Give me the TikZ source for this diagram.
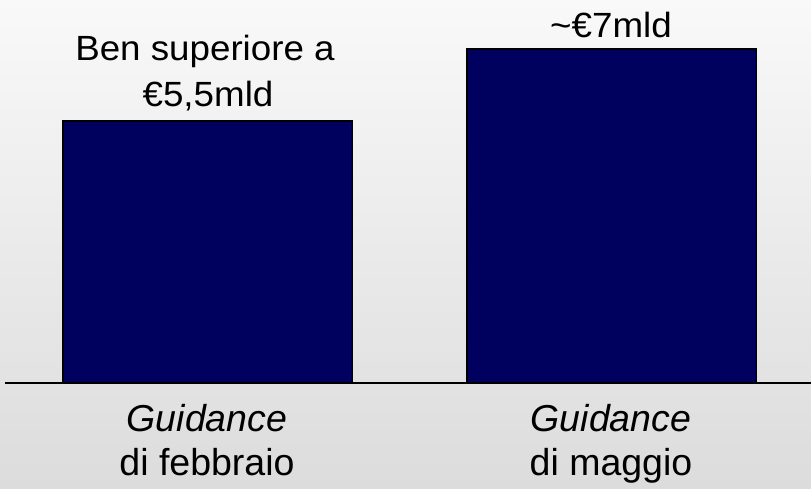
\documentclass[tikz,border=0pt]{standalone}
\usepackage{fontspec}
\setmainfont{Liberation Sans}
\definecolor{bartop}{HTML}{F9F9F9}
\definecolor{barbot}{HTML}{DCDCDC}
\definecolor{navy}{HTML}{00005F}
\begin{document}
\begin{tikzpicture}[x=1pt,y=-1pt,
  bar/.style={fill=navy,draw=black,line width=1.5pt},
  lbl/.style={anchor=base,inner sep=0pt,font=\fontsize{35}{42}\selectfont},
  blbl/.style={anchor=base,inner sep=0pt,font=\fontsize{37.5}{44}\selectfont},
  ilbl/.style={blbl,font=\fontsize{37.5}{44}\selectfont\itshape}]
\shade[top color=bartop,bottom color=barbot] (0,0) rectangle (811,488);
\useasboundingbox (0,0) rectangle (811,488);
\path[bar] (63,121) rectangle (352,383);
\path[bar] (467,49) rectangle (756,383);
\draw[line width=2pt] (5,383) -- (811,383);
\node[lbl] (t1a) at (205,60) {\scalebox{1.05}[1]{Ben superiore a}};
\node[lbl] (t1b) at (208,106) {\scalebox{1.05}[1]{€5,5mld}};
\node[lbl] (t2) at (611,37) {\scalebox{1.05}[1]{\textasciitilde€7mld}};
\node[ilbl] (b1a) at (207,431) {Guidance};
\node[blbl] (b1b) at (207,475) {di febbraio};
\node[ilbl] (b2a) at (611,431) {Guidance};
\node[blbl] (b2b) at (611,475) {di maggio};
\end{tikzpicture}
\end{document}
